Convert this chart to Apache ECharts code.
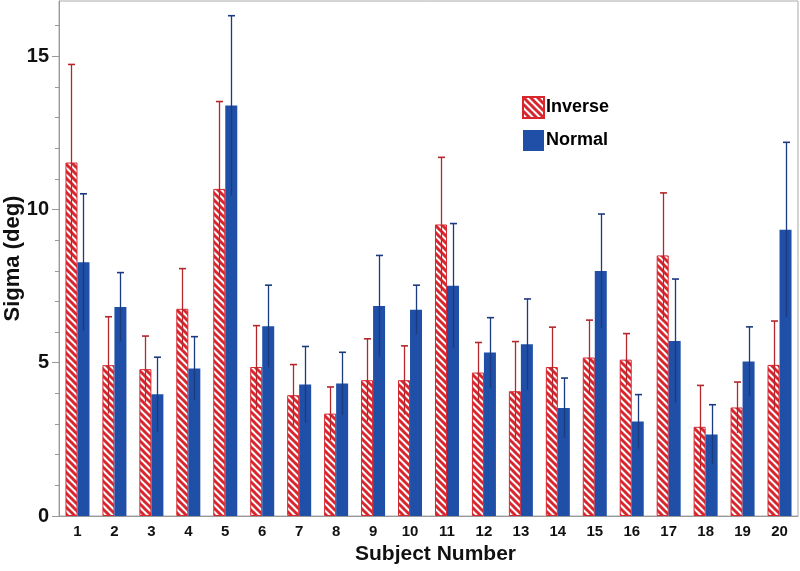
<!DOCTYPE html>
<html>
<head>
<meta charset="utf-8">
<script src="https://cdn.jsdelivr.net/npm/echarts@6/dist/echarts.min.js"></script>
<style>
  html, body { margin: 0; padding: 0; background: #fff; }
  #chart { width: 800px; height: 571px; }
</style>
</head>
<body>
<div id="chart"></div>
<script>
// subject numbers
const subjects = ['1','2','3','4','5','6','7','8','9','10','11','12','13','14','15','16','17','18','19','20']

// mean sigma (deg) and half error-bar length
const inverse = [11.53, 4.92, 4.79, 6.76, 10.67, 4.86, 3.94, 3.34, 4.43, 4.43, 9.51, 4.68, 4.07, 4.86, 5.17, 5.10, 8.50, 2.91, 3.54, 4.93]
const inverseErr = [3.2, 1.58, 1.08, 1.31, 2.85, 1.35, 1.0, 0.87, 1.35, 1.12, 2.19, 0.98, 1.62, 1.3, 1.22, 0.85, 2.04, 1.35, 0.83, 1.43]
const normal = [8.28, 6.82, 3.97, 4.81, 13.39, 6.19, 4.29, 4.32, 6.85, 6.73, 7.51, 5.33, 5.60, 3.52, 7.99, 3.08, 5.71, 2.66, 5.04, 9.34]
const normalErr = [2.23, 1.12, 1.21, 1.04, 2.93, 1.34, 1.24, 1.02, 1.65, 0.8, 2.03, 1.14, 1.48, 0.98, 1.86, 0.88, 2.02, 0.97, 1.13, 2.85]

// y axis ticks
const yMajor = [0, 5, 10, 15]
const yMinor = [1, 2, 3, 4, 6, 7, 8, 9, 11, 12, 13, 14, 16]

const RED = '#d8262e'
const BLUE = '#1f4fa6'
const FONT = "'Liberation Sans', Arial, sans-serif"

function hatch() {
  const s = 7
  const c = document.createElement('canvas')
  c.width = c.height = s
  const g = c.getContext('2d')
  g.fillStyle = '#fff'
  g.fillRect(0, 0, s, s)
  g.strokeStyle = RED
  g.lineWidth = 3
  for (const o of [-s, 0, s]) {
    g.beginPath()
    g.moveTo(o - 1, -1)
    g.lineTo(o + s + 1, s + 1)
    g.stroke()
  }
  return c
}

function errorSeries(means, errs, color, offset) {
  return {
    type: 'custom',
    z: 5,
    silent: true,
    data: means.map((m, i) => [i, m - errs[i], m + errs[i]]),
    renderItem: (params, api) => {
      const lo = api.coord([api.value(0), api.value(1)])
      const hi = api.coord([api.value(0), api.value(2)])
      const x = Math.round(lo[0] + offset) + 0.5
      const style = { stroke: color, lineWidth: 1.3 }
      return {
        type: 'group',
        children: [
          { type: 'line', shape: { x1: x, y1: lo[1], x2: x, y2: hi[1] }, style },
          { type: 'line', shape: { x1: x - 3.5, y1: hi[1], x2: x + 3.5, y2: hi[1] }, style: { stroke: color, lineWidth: 1.6 } }
        ]
      }
    }
  }
}

const chart = echarts.init(document.getElementById('chart'))
chart.setOption({
  animation: false,
  grid: {
    left: 59, right: 2, top: 1, bottom: 55,
    outerBoundsMode: 'none',
    containLabel: false,
    show: true, borderColor: '#aaa', borderWidth: 1
  },
  legend: {
    orient: 'vertical',
    left: 522, top: 96,
    padding: 0,
    itemWidth: 21, itemHeight: 21, itemGap: 11,
    icon: 'rect',
    data: ['Inverse', 'Normal'],
    textStyle: { fontFamily: FONT, fontWeight: 'bold', fontSize: 18, color: '#000', padding: [0, 0, 0, -3] }
  },
  xAxis: {
    type: 'category',
    data: subjects,
    name: 'Subject Number',
    nameLocation: 'middle',
    nameGap: 28,
    nameMoveOverlap: false,
    nameTextStyle: { fontFamily: FONT, fontWeight: 'bold', fontSize: 21, color: '#111', padding: [0, 0, 0, 14] },
    axisLine: { lineStyle: { color: '#999' } },
    axisTick: { alignWithLabel: true, length: 5, lineStyle: { color: '#999' } },
    axisLabel: { fontFamily: FONT, fontWeight: 'bold', fontSize: 15, color: '#111', margin: 8 }
  },
  yAxis: [{
    type: 'value',
    min: 0, max: 16.8,
    name: 'Sigma (deg)',
    nameLocation: 'middle',
    nameGap: 35,
    nameMoveOverlap: false,
    nameTextStyle: { fontFamily: FONT, fontWeight: 'bold', fontSize: 22, color: '#111' },
    splitLine: { show: false },
    axisLine: { show: true, lineStyle: { color: '#999' } },
    axisTick: { show: true, length: 7, customValues: yMajor, lineStyle: { color: '#999' } },
    axisLabel: { customValues: yMajor, fontFamily: FONT, fontWeight: 'bold', fontSize: 20, color: '#111', margin: 10 }
  }, {
    type: 'value',
    position: 'left',
    min: 0, max: 16.8,
    splitLine: { show: false },
    axisLine: { show: false },
    axisTick: { show: true, length: 4, customValues: yMinor, lineStyle: { color: '#999' } },
    axisLabel: { show: false }
  }],
  series: [
    {
      name: 'Inverse', type: 'bar', data: inverse,
      barWidth: 12, barGap: '0%',
      itemStyle: { color: { image: hatch(), repeat: 'repeat' }, borderColor: RED, borderWidth: 1 }
    },
    {
      name: 'Normal', type: 'bar', data: normal,
      barWidth: 12, barGap: '0%',
      itemStyle: { color: BLUE }
    },
    errorSeries(inverse, inverseErr, '#b3272d', -6),
    errorSeries(normal, normalErr, '#1c3a80', 6)
  ]
})
</script>
</body>
</html>
